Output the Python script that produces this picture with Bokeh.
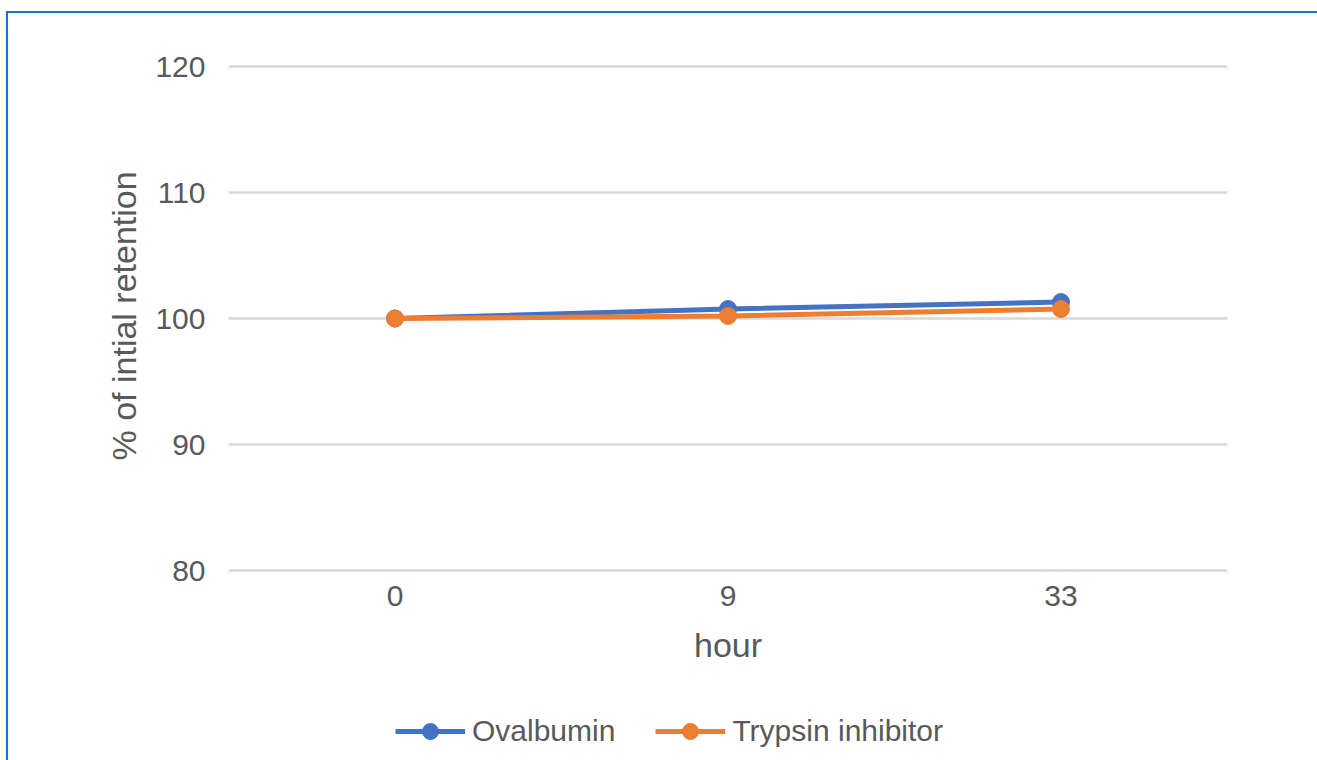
from bokeh.plotting import figure
from bokeh.models import (FactorRange, Range1d, FixedTicker, Legend, LegendItem,
                          InlineStyleSheet, Title)
from bokeh.embed import file_html
from bokeh.resources import INLINE

# ---- data ----
hours = ["0", "9", "33"]
ovalbumin = [100.0, 100.75, 101.3]
trypsin_inhibitor = [100.0, 100.2, 100.75]
y_ticks = [80, 90, 100, 110, 120]
y_min, y_max = 80, 120
series_names = ["Ovalbumin", "Trypsin inhibitor"]
series_colors = ["#4472C4", "#ED7D31"]
x_title = "hour"
y_title = "% of intial retention"

FONT = "Liberation Sans"
TEXT = "#595959"

# the frame reaches the bottom of the chart so that the legend can sit inside it;
# the value range keeps 80..120 where the reference draws it
PX_PER_UNIT = 12.6
TOP_PAD = 2 / PX_PER_UNIT
BOTTOM_PAD = 190 / PX_PER_UNIT

p = figure(
    width=1317, height=760,
    x_range=FactorRange(factors=hours, range_padding=0),
    y_range=Range1d(y_min - BOTTOM_PAD, y_max + TOP_PAD),
    output_backend="svg", toolbar_location=None,
    min_border_left=228, min_border_right=90,
    min_border_top=64, min_border_bottom=0,
)
p.outline_line_color = None
p.background_fill_color = "white"
p.border_fill_color = "white"

# grid
p.xgrid.grid_line_color = None
p.ygrid.grid_line_color = "#D9D9D9"
p.ygrid.grid_line_width = 2.5
p.yaxis.ticker = FixedTicker(ticks=y_ticks)
p.yaxis.bounds = (y_min, y_max)

# axes
for ax in (p.xaxis[0], p.yaxis[0]):
    ax.axis_line_color = None
    ax.major_tick_line_color = None
    ax.minor_tick_line_color = None
    ax.major_tick_out = 0
    ax.major_tick_in = 0
    ax.minor_tick_out = 0
    ax.major_label_text_font = FONT
    ax.major_label_text_font_size = "30px"
    ax.major_label_text_color = TEXT
    ax.axis_label_text_font = FONT
    ax.axis_label_text_font_size = "34px"
    ax.axis_label_text_font_style = "normal"
    ax.axis_label_text_color = TEXT

p.xaxis.fixed_location = y_min
p.xaxis.axis_label = x_title
p.xaxis.major_label_standoff = 15
p.xaxis.axis_label_standoff = 17
p.yaxis.major_label_standoff = 23

# y title, centred on the 80..120 span (not on the whole frame)
p.add_layout(Title(text=y_title, align="left", offset=300, vertical_align="middle",
                   standoff=18, text_font=FONT, text_font_size="34px",
                   text_font_style="normal", text_color=TEXT), "left")

# series
items = []
for name, vals, col in zip(series_names, [ovalbumin, trypsin_inhibitor], series_colors):
    l = p.line(x=hours, y=vals, line_color=col, line_width=5)
    s = p.scatter(x=hours, y=vals, size=17, marker="circle", fill_color=col, line_color=col)
    items.append(LegendItem(label=name, renderers=[l, s]))

legend = Legend(
    items=items, orientation="horizontal", location=(167, 9),
    glyph_width=70, glyph_height=40, label_standoff=7, spacing=40,
    padding=0, margin=0, border_line_color=None, background_fill_alpha=0,
    label_text_font=FONT, label_text_font_size="30px", label_text_color=TEXT,
)
p.add_layout(legend)

# outer frame: blue border at the left and top of the chart box
p.stylesheets = [InlineStyleSheet(css="""
:host { position: relative; }
:host::after {
  content: ""; position: absolute; left: 6px; top: 11px; right: 0; bottom: 0;
  border-left: 2px solid #1A78C8; border-top: 2px solid #1A78C8;
  pointer-events: none; z-index: 10;
}
""")]

open("out.html", "w").write(file_html(p, INLINE))
